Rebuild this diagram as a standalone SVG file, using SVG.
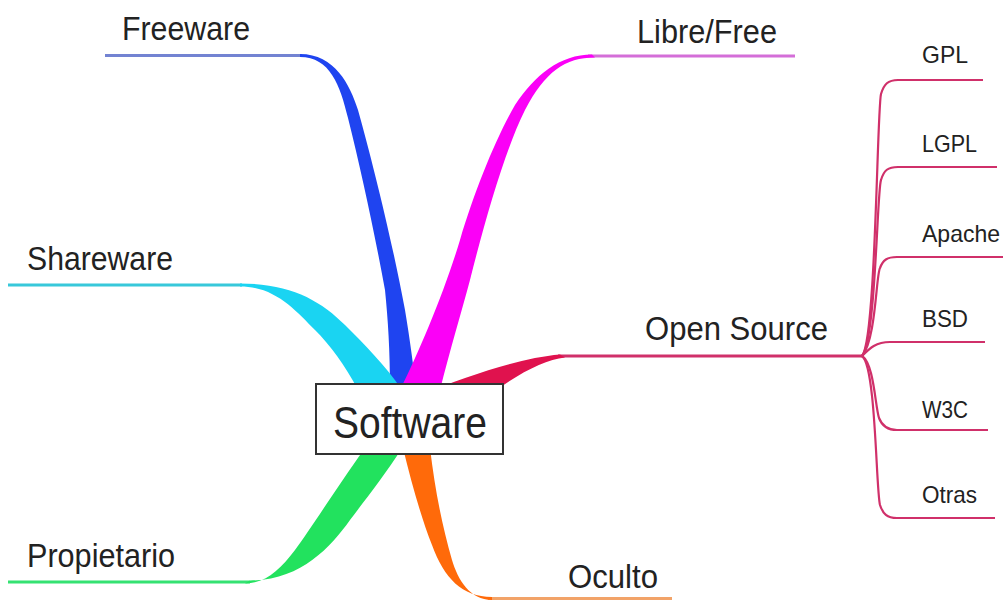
<svg xmlns="http://www.w3.org/2000/svg" width="1005" height="602" viewBox="0 0 1005 602">
  <style>
    .lbl { font-family: "Liberation Sans", Arial, sans-serif; fill: #222; }
    .main { font-size: 34px; }
    .sub { font-size: 24px; }
    .root { font-size: 45px; }
    .stem { fill: none; stroke-width: 3; stroke-linecap: butt; }
    .os { fill: none; stroke: #d0306a; stroke-width: 2.2; }
  </style>
  <rect width="1005" height="602" fill="#ffffff"/>
  <g id="connectors">
    <!-- Freeware (blue) -->
    <line class="stem" x1="105" y1="55.5" x2="302" y2="55.5" stroke="#7383d2"/>
    <path d="M300,54 C335,54 350,85 358,110 C372,160 392,240 405,310 C410,340 414,370 416,390 L390,390 C390,350 388,320 385,290 C374,230 361,170 348,118 C340,85 330,57 300,57 Z" fill="#1f44f0"/>
    <!-- Shareware (cyan) -->
    <line class="stem" x1="8" y1="285" x2="242" y2="285" stroke="#38c8da"/>
    <path d="M240,283.5 C290,283.5 320,300 345,325 C365,345 385,365 402,390 L358,390 C345,365 330,345 315,330 C295,310 275,286.5 240,286.5 Z" fill="#1ad4f2"/>
    <!-- Libre/Free (magenta) -->
    <line class="stem" x1="588" y1="56" x2="795" y2="56" stroke="#d46ed8"/>
    <path d="M592,54.5 C560,54.5 535,75 515,105 C495,140 475,190 460,240 C445,290 420,350 400,390 L440,390 C450,350 462,310 470,280 C485,220 505,150 525,110 C545,72 565,57.5 595,57.5 Z" fill="#fb00f7"/>
    <!-- Open Source (crimson) -->
    <line x1="558" y1="356" x2="863" y2="356" stroke="#d0306a" stroke-width="3"/>
    <path d="M420,395 C470,375 520,358 560,354.5 L565,357.5 C545,360 520,372 490,395 Z" fill="#e0124e"/>
    <!-- Propietario (green) -->
    <line class="stem" x1="8" y1="582" x2="250" y2="582" stroke="#35e272"/>
    <path d="M245,583.5 C265,583.5 280,570 295,550 C310,530 335,490 365,448 L402,448 C385,475 365,500 350,520 C330,548 300,580.5 250,580.5 Z" fill="#22e25e"/>
    <!-- Oculto (orange) -->
    <line class="stem" x1="488" y1="598.5" x2="672" y2="598.5" stroke="#f2a368"/>
    <path d="M403,448 C412,485 422,520 432,545 C444,578 462,597 492,597 L492,600 C470,600 458,580 452,560 C442,525 435,490 430,448 Z" fill="#ff6a0a"/>
    <!-- Open Source sub-branches -->
    <path class="os" d="M862,356 C876,340 877,110 881,94 C884,84 888,80 898,80 L983,80"/>
    <path class="os" d="M862,356 C876,340 877,190 881,180 C884,170 888,167 898,167 L997,167"/>
    <path class="os" d="M862,356 C876,340 876,275 880,268 C883,260 887,257 897,257 L1003,257"/>
    <path class="os" d="M862,356 C870,348 876,342 890,342 L985,342"/>
    <path class="os" d="M862,356 C874,364 875,405 879,418 C882,426 887,430 897,430 L988,430"/>
    <path class="os" d="M862,356 C876,366 876,490 880,505 C883,514 887,518 897,518 L995,518"/>
  </g>
  <g id="node-software">
    <rect x="316" y="384" width="187" height="70" fill="#ffffff" stroke="#333333" stroke-width="2"/>
    <text class="lbl root" x="333" y="438" textLength="154" lengthAdjust="spacingAndGlyphs">Software</text>
  </g>
  <g id="node-freeware"><text class="lbl main" x="122" y="40" textLength="128" lengthAdjust="spacingAndGlyphs">Freeware</text></g>
  <g id="node-libre"><text class="lbl main" x="637" y="43" textLength="140" lengthAdjust="spacingAndGlyphs">Libre/Free</text></g>
  <g id="node-shareware"><text class="lbl main" x="27" y="270" textLength="146" lengthAdjust="spacingAndGlyphs">Shareware</text></g>
  <g id="node-opensource"><text class="lbl main" x="645" y="340" textLength="183" lengthAdjust="spacingAndGlyphs">Open Source</text></g>
  <g id="node-propietario"><text class="lbl main" x="27" y="567" textLength="148" lengthAdjust="spacingAndGlyphs">Propietario</text></g>
  <g id="node-oculto"><text class="lbl main" x="568" y="588" textLength="90" lengthAdjust="spacingAndGlyphs">Oculto</text></g>
  <g id="node-gpl"><text class="lbl sub" x="922" y="63" textLength="46" lengthAdjust="spacingAndGlyphs">GPL</text></g>
  <g id="node-lgpl"><text class="lbl sub" x="922" y="152" textLength="55" lengthAdjust="spacingAndGlyphs">LGPL</text></g>
  <g id="node-apache"><text class="lbl sub" x="922" y="242" textLength="78" lengthAdjust="spacingAndGlyphs">Apache</text></g>
  <g id="node-bsd"><text class="lbl sub" x="922" y="327" textLength="46" lengthAdjust="spacingAndGlyphs">BSD</text></g>
  <g id="node-w3c"><text class="lbl sub" x="922" y="418" textLength="46" lengthAdjust="spacingAndGlyphs">W3C</text></g>
  <g id="node-otras"><text class="lbl sub" x="922" y="503" textLength="55" lengthAdjust="spacingAndGlyphs">Otras</text></g>
</svg>
